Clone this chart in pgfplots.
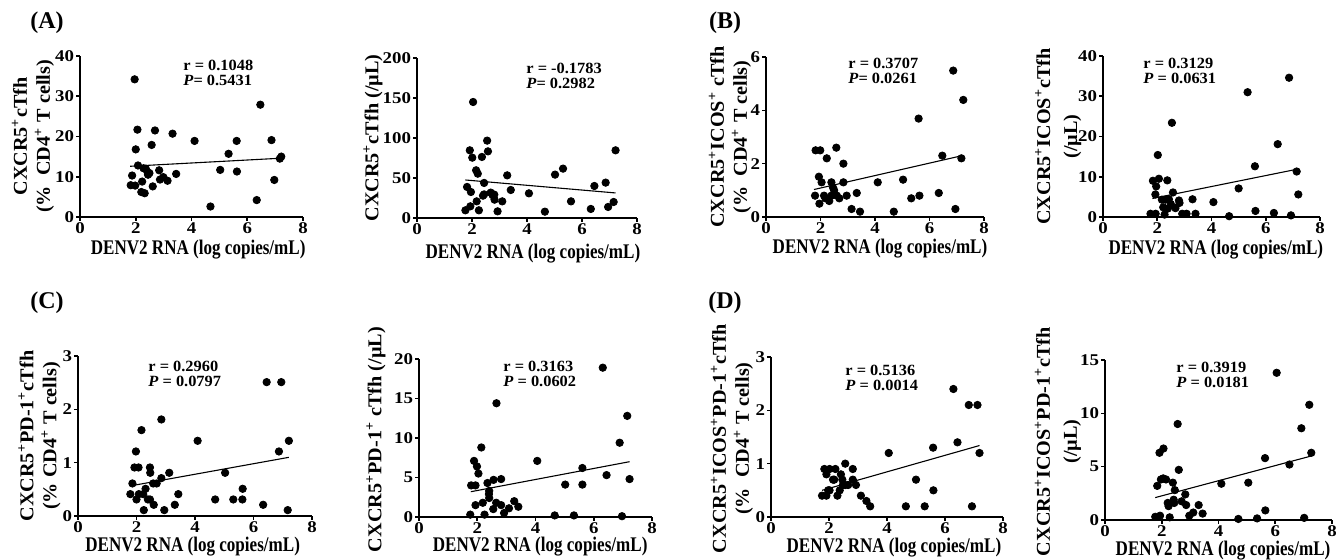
\documentclass[border=0pt]{standalone}
\usepackage{fontspec}
\setmainfont{Liberation Serif}
\newfontfamily\xlfam{Liberation Serif}[FakeStretch=0.82]
\newfontfamily\ylfam{Liberation Serif}[FakeStretch=1.03]
\newfontfamily\tkfam{Liberation Serif}[FakeStretch=1.15]
\newfontfamily\anfam{Liberation Serif}[FakeStretch=1.05]
\usepackage{pgfplots}
\pgfplotsset{compat=1.18}

\newcommand\tkfont{\tkfam\bfseries\fontsize{8.2}{9}\selectfont}
\newcommand\xlfont{\xlfam\bfseries\fontsize{10.4}{12}\selectfont}
\newcommand\ylfont{\ylfam\bfseries\fontsize{9.8}{11.5}\selectfont}
\newcommand\anfont{\anfam\bfseries\fontsize{7.8}{7.1}\selectfont}
\newcommand\pl{\textsuperscript{+}}

\pgfplotsset{
  panel/.style={
    scale only axis, anchor=south west,
    axis lines=left, axis line style={-, line width=0.8pt},
    xmin=0, xmax=8, ymin=0, enlargelimits=false,
    xtick={0,2,4,6,8},
    tick align=outside, major tick length=2pt,
    tick style={line width=0.8pt, black},
    ticklabel style={font=\tkfont},
    yticklabel style={inner xsep=0.8pt},
    xticklabel style={inner ysep=0.8pt},
    /pgf/number format/assume math mode=true,
    scaled y ticks=false, clip=false,
    xlabel={DENV2 RNA (log copies/mL)},
    xlabel style={font=\xlfont, anchor=center},
    ylabel style={font=\ylfont, anchor=center, align=center},
  },
  dots/.style={only marks, mark=*, mark size=1.85pt, black},
  fit/.style={no marks, black, line width=0.55pt},
}

\begin{document}
\begin{tikzpicture}
\useasboundingbox (0,0) rectangle (668pt,280pt);

% ---------- (A) left
\begin{axis}[panel, at={(40pt,171.5pt)}, width=111.5pt, height=80.5pt,
  ymax=40, ytick={0,10,20,30,40},
  ylabel={CXCR5\pl cTfh\\(\%~~CD4\pl~T cells)},
  ylabel style={at={(axis description cs:-0.211,0.5)}},
  xlabel style={at={(axis description cs:0.53,-0.2)}}]
\addplot[dots] coordinates {(1.96,34.2) (2.06,21.7) (2.69,21.5) (3.32,20.7) (4.11,18.9) (5.62,18.9) (6.87,19.1) (6.47,27.9) (2.0,16.8) (2.57,17.9) (5.33,15.7) (7.17,14.5) (7.22,15.0) (2.08,12.8) (2.28,12.1) (1.87,10.3) (1.82,7.9) (1.98,7.8) (2.23,8.8) (2.2,6.2) (2.32,5.9) (2.42,11.2) (2.44,10.5) (2.61,7.6) (2.84,11.6) (2.87,9.3) (2.99,9.9) (3.14,9.0) (3.45,10.7) (4.68,2.6) (5.03,11.7) (5.63,11.3) (6.34,4.2) (6.97,9.2) (2.49,10.9) (2.36,12.0)};
\addplot[fit] coordinates {(1.8,12.6) (7.2,14.6)};
\end{axis}

% ---------- (A) right
\begin{axis}[panel, at={(208.5pt,171pt)}, width=110pt, height=80pt,
  ymax=200, ytick={0,50,100,150,200},
  ylabel={CXCR5\pl cTfh (/µL)},
  ylabel style={at={(axis description cs:-0.2,0.5)}},
  xlabel style={at={(axis description cs:0.527,-0.22)}}]
\addplot[dots] coordinates {(2.04,145) (2.55,96.7) (1.92,84.6) (2.58,83.3) (7.22,84.6) (2.01,75.4) (2.36,76.3) (2.15,59.6) (2.21,55.4) (3.28,53.3) (5.02,54.2) (5.31,61.7) (2.44,43.8) (1.82,38.8) (1.96,32.5) (6.86,44.2) (6.45,40) (3.41,35) (4.07,30.8) (2.68,31.7) (2.81,29.2) (2.4,27.9) (2.44,29.5) (2.82,22.9) (2.17,20.8) (3.1,20.8) (5.6,20.8) (7.15,20) (1.94,14.6) (1.76,9.6) (2.25,9.6) (2.93,8.3) (4.65,7.9) (6.32,11.3) (6.95,13.8) (2.75,28.5)};
\addplot[fit] coordinates {(1.76,47.5) (7.22,31.3)};
\end{axis}

% ---------- (B) left
\begin{axis}[panel, at={(383pt,171.5pt)}, width=109pt, height=80pt,
  ymax=6, ytick={0,2,4,6},
  ylabel={CXCR5\pl ICOS\pl~cTfh\\(\%~~CD4\pl~T cells)},
  ylabel style={at={(axis description cs:-0.165,0.5)}},
  xlabel style={at={(axis description cs:0.523,-0.2)}}]
\addplot[dots] coordinates {(6.87,5.49) (7.24,4.39) (5.6,3.69) (1.82,2.5) (1.99,2.5) (2.58,2.6) (2.23,2.2) (2.84,2.0) (6.47,2.3) (7.17,2.2) (1.94,1.51) (2.04,1.3) (2.4,1.3) (2.84,1.3) (4.1,1.3) (5.03,1.4) (2.46,1.1) (1.8,0.8) (2.13,0.8) (2.5,0.87) (2.6,0.8) (2.69,0.7) (2.96,0.8) (3.33,0.9) (1.96,0.5) (2.18,0.7) (2.32,0.6) (2.4,0.8) (5.33,0.7) (5.63,0.8) (6.34,0.9) (3.14,0.3) (3.45,0.2) (4.69,0.2) (6.95,0.3) (2.5,1.0)};
\addplot[fit] coordinates {(1.76,1.03) (7.24,2.31)};
\end{axis}

% ---------- (B) right
\begin{axis}[panel, at={(551.5pt,171.5pt)}, width=108.5pt, height=80.5pt,
  ymax=40, ytick={0,10,20,30,40},
  ylabel={CXCR5\pl ICOS\pl cTfh\\[2pt](/µL)},
  ylabel style={at={(axis description cs:-0.207,0.5)}},
  xlabel style={at={(axis description cs:0.52,-0.2)}}]
\addplot[dots] coordinates {(6.86,34.6) (5.33,31.0) (2.54,23.4) (6.44,18.1) (2.02,15.4) (5.6,12.6) (7.14,11.3) (2.06,9.5) (1.84,9.0) (2.37,9.1) (1.96,7.6) (5.0,7.1) (2.58,6.1) (1.93,5.6) (7.2,5.6) (2.17,4.3) (2.43,4.4) (3.3,4.4) (4.07,3.7) (2.8,4.1) (2.82,3.5) (2.22,2.4) (2.39,2.1) (2.67,2.2) (2.3,4.3) (1.75,0.8) (1.94,0.8) (2.27,0.6) (2.92,0.8) (3.08,0.8) (3.41,0.8) (4.65,0.2) (5.62,1.5) (6.3,1.0) (6.93,0.4) (2.5,3.2)};
\addplot[fit] coordinates {(1.82,4.6) (7.18,11.9)};
\end{axis}

% ---------- (C) left
\begin{axis}[panel, at={(39pt,22pt)}, width=117pt, height=80pt,
  ymax=3, ytick={0,1,2,3},
  ylabel={CXCR5\pl PD-1\pl cTfh\\(\%~CD4\pl~T cells)},
  ylabel style={at={(axis description cs:-0.165,0.5)}},
  xlabel style={at={(axis description cs:0.49,-0.19)}}]
\addplot[dots] coordinates {(6.45,2.51) (6.95,2.51) (2.85,1.81) (2.17,1.61) (4.09,1.41) (7.21,1.41) (1.98,1.21) (6.87,1.21) (1.93,0.91) (2.07,0.91) (2.46,0.91) (2.47,0.81) (3.12,0.81) (5.03,0.81) (2.85,0.71) (1.86,0.61) (2.57,0.61) (2.69,0.61) (1.79,0.41) (2.08,0.41) (2.23,0.41) (2.31,0.51) (3.43,0.41) (5.63,0.51) (2.0,0.31) (2.39,0.31) (2.46,0.31) (4.69,0.31) (5.31,0.31) (5.62,0.31) (2.59,0.21) (3.31,0.21) (6.33,0.21) (2.25,0.11) (2.95,0.11) (7.17,0.11)};
\addplot[fit] coordinates {(1.85,0.57) (7.21,1.1)};
\end{axis}

% ---------- (C) right
\begin{axis}[panel, at={(209.5pt,21.5pt)}, width=116.5pt, height=79pt,
  ymax=20, ytick={0,5,10,15,20},
  ylabel={CXCR5\pl PD-1\pl~cTfh (/µL)},
  ylabel style={at={(axis description cs:-0.185,0.49)}},
  xlabel style={at={(axis description cs:0.52,-0.19)}}]
\addplot[dots] coordinates {(6.31,18.9) (2.66,14.4) (7.15,12.8) (6.89,9.4) (2.14,8.8) (1.89,7.1) (4.06,7.1) (1.99,6.4) (2.04,5.5) (5.61,6.2) (6.44,5.3) (7.23,4.8) (1.79,4.0) (1.94,4.0) (2.56,4.7) (2.82,4.8) (2.35,4.3) (5.02,4.1) (5.61,4.1) (2.41,3.3) (2.4,2.9) (2.41,2.4) (2.19,1.8) (3.27,2.0) (1.94,1.5) (2.82,1.5) (3.09,1.1) (3.41,1.3) (2.55,1.0) (2.92,0.5) (1.76,0.3) (2.25,0.3) (4.66,0.2) (5.32,0.2) (6.97,0.1) (2.65,1.8)};
\addplot[fit] coordinates {(1.78,3.2) (7.23,7.0)};
\end{axis}

% ---------- (D) left
\begin{axis}[panel, at={(385.5pt,21.5pt)}, width=116pt, height=80pt,
  ymax=3, ytick={0,1,2,3},
  ylabel={CXCR5\pl ICOS\pl PD-1\pl cTfh\\(\%~~CD4\pl~T cells)},
  ylabel style={at={(axis description cs:-0.168,0.49)}},
  xlabel style={at={(axis description cs:0.53,-0.19)}}]
\addplot[dots] coordinates {(1.76,0.4) (1.84,0.9) (1.91,0.8) (1.91,0.4) (1.97,0.5) (2.02,0.9) (2.02,0.5) (2.14,0.7) (2.18,0.7) (2.22,0.9) (2.29,0.4) (2.37,0.5) (2.41,0.8) (2.46,0.7) (2.48,0.6) (2.56,1.0) (2.56,0.6) (2.66,0.6) (2.82,0.9) (2.82,0.7) (2.93,0.6) (3.10,0.4) (3.29,0.3) (3.42,0.2) (4.06,1.2) (4.65,0.2) (5.0,0.7) (5.30,0.2) (5.59,1.3) (5.6,0.5) (6.29,2.4) (6.43,1.4) (6.82,2.1) (6.93,0.2) (7.12,2.1) (7.19,1.2)};
\addplot[fit] coordinates {(1.76,0.5) (7.19,1.34)};
\end{axis}

% ---------- (D) right
\begin{axis}[panel, at={(552.5pt,20pt)}, width=113.5pt, height=80pt,
  ymax=15, ytick={0,5,10,15},
  ylabel={CXCR5\pl ICOS\pl PD-1\pl cTfh\\[2pt](/µL)},
  ylabel style={at={(axis description cs:-0.207,0.49)}},
  xlabel style={at={(axis description cs:0.52,-0.19)}}]
\addplot[dots] coordinates {(6.05,13.8) (7.2,10.8) (6.92,8.6) (2.56,9.0) (2.06,6.7) (1.92,6.3) (5.64,5.8) (7.27,6.3) (6.5,5.2) (2.6,4.7) (1.97,3.8) (2.05,3.9) (2.15,3.8) (1.84,3.2) (2.39,3.5) (2.46,2.8) (2.83,2.4) (4.1,3.4) (5.05,3.5) (2.42,1.9) (2.44,1.6) (2.21,1.6) (2.24,1.3) (2.7,1.75) (2.86,1.4) (3.3,1.4) (3.11,0.7) (2.97,0.4) (3.44,0.6) (5.65,0.9) (1.77,0.3) (1.94,0.4) (2.28,0.25) (4.7,0.1) (5.36,0.15) (7.02,0.2)};
\addplot[fit] coordinates {(1.77,2.1) (7.27,6.0)};
\end{axis}

% ---------- correlation annotations
\begin{scope}[every node/.style={font=\anfont, align=left, anchor=west, inner sep=0pt}]
\node at (91.5pt,243.5pt) {r = 0.1048\\\textit{P}= 0.5431};
\node at (263pt,242pt) {r = -0.1783\\\textit{P}= 0.2982};
\node at (424pt,244.5pt) {r = 0.3707\\\textit{P}= 0.0261};
\node at (571.5pt,244.5pt) {r = 0.3129\\\textit{P} = 0.0631};
\node at (74pt,93pt) {r = 0.2960\\\textit{P} = 0.0797};
\node at (251.5pt,93pt) {r = 0.3163\\\textit{P} = 0.0602};
\node at (422.5pt,91pt) {r = 0.5136\\\textit{P} = 0.0014};
\node at (588pt,92.5pt) {r = 0.3919\\\textit{P} = 0.0181};
\end{scope}

% ---------- panel letters
\begin{scope}[every node/.style={font=\bfseries\fontsize{12}{13}\selectfont, inner sep=0pt}]
\node at (23.5pt,268.5pt) {(A)};
\node at (362.5pt,268.5pt) {(B)};
\node at (23.5pt,128.5pt) {(C)};
\node at (362.5pt,128.5pt) {(D)};
\end{scope}
\end{tikzpicture}
\end{document}
